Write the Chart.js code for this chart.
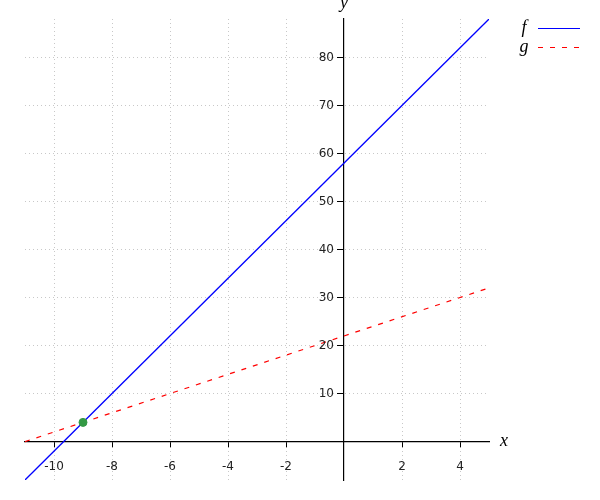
<!DOCTYPE html>
<html>
<head>
<meta charset="utf-8">
<script src="https://cdn.jsdelivr.net/npm/chart.js@4"></script>
<style>
  html, body { margin: 0; padding: 0; background: #fff; }
  #wrap { width: 600px; height: 500px; }
</style>
</head>
<body>
<div id="wrap"><canvas id="grafico"></canvas></div>
<script>
// endpoints of both lines
const xValues = [-11, 5];
const fValues = [-8, 88];
const gValues = [0, 32];
const meetPoint = [{ x: -9, y: 4 }];

const xTicks = [-10, -8, -6, -4, -2, 2, 4];
const yTicks = [10, 20, 30, 40, 50, 60, 70, 80];

const toPoints = (ys) => xValues.map((x, i) => ({ x: x, y: ys[i] }));

const tickFont = { family: 'DejaVu Sans', size: 12 };
const letterFont = 'italic 18px "Liberation Serif"';

// y labels, legend and axis letters drawn by hand
// (chart.js puts y labels on top of an axis placed at x = 0)
const extras = {
  id: 'extras',
  afterDraw(chart) {
    const ctx = chart.ctx;
    const xs = chart.scales.x, ys = chart.scales.y;
    const x0 = xs.getPixelForValue(0);
    ctx.save();

    ctx.font = '12px "DejaVu Sans"';
    ctx.fillStyle = '#222';
    ctx.textAlign = 'right';
    ctx.textBaseline = 'middle';
    ys.ticks.forEach(t => {
      ctx.fillText(String(t.value), x0 - 10, ys.getPixelForValue(t.value));
    });

    ctx.font = letterFont;
    ctx.fillStyle = '#000';
    ctx.textAlign = 'center';
    ctx.fillText('x', 504, ys.getPixelForValue(0));
    ctx.fillText('y', x0, 3);

    chart.data.datasets.filter(d => d.inLegend).forEach((d, i) => {
      const y = 29 + i * 19;
      ctx.fillStyle = '#000';
      ctx.fillText(d.label, 524, y - 1);
      ctx.strokeStyle = d.borderColor;
      ctx.lineWidth = 1;
      ctx.setLineDash(d.borderDash || []);
      ctx.beginPath();
      ctx.moveTo(538, y - 0.5);
      ctx.lineTo(580, y - 0.5);
      ctx.stroke();
    });
    ctx.restore();
  }
};

const ctx = document.getElementById('grafico').getContext('2d');
new Chart(ctx, {
  type: 'scatter',
  data: {
    datasets: [
      {
        label: 'f',
        inLegend: true,
        data: toPoints(fValues),
        showLine: true,
        borderColor: '#0000ff',
        borderWidth: 1.3,
        pointRadius: 0,
        order: 2
      },
      {
        label: 'g',
        inLegend: true,
        data: toPoints(gValues),
        showLine: true,
        borderColor: '#ff0000',
        borderWidth: 1.2,
        borderDash: [5, 7],
        pointRadius: 0,
        order: 3
      },
      {
        label: 'meet',
        data: meetPoint,
        pointRadius: 4,
        pointBackgroundColor: '#339944',
        pointBorderColor: '#339944',
        order: 1
      }
    ]
  },
  options: {
    responsive: true,
    maintainAspectRatio: false,
    animation: false,
    layout: { padding: { left: 25, right: 111, top: 19, bottom: 20 } },
    plugins: {
      legend: { display: false },
      tooltip: { enabled: false }
    },
    scales: {
      x: {
        type: 'linear',
        position: { y: 0 },
        min: -11,
        max: 5,
        afterBuildTicks: (s) => { s.ticks = xTicks.map(v => ({ value: v })); },
        grid: { color: '#c8c8c8', tickLength: 5, tickColor: '#000', tickBorderDash: [] },
        border: { color: '#000', width: 1.2, dash: [1, 3] },
        ticks: { font: tickFont, color: '#222', padding: 13, maxRotation: 0, autoSkip: false }
      },
      y: {
        type: 'linear',
        position: { x: 0 },
        min: -8,
        max: 88,
        afterBuildTicks: (s) => { s.ticks = yTicks.map(v => ({ value: v })); },
        grid: { color: '#c8c8c8', tickLength: 6, tickColor: '#000', tickBorderDash: [] },
        border: { color: '#000', width: 1.2, dash: [1, 3] },
        ticks: { display: false, autoSkip: false }
      }
    }
  },
  plugins: [extras]
});
</script>
</body>
</html>
